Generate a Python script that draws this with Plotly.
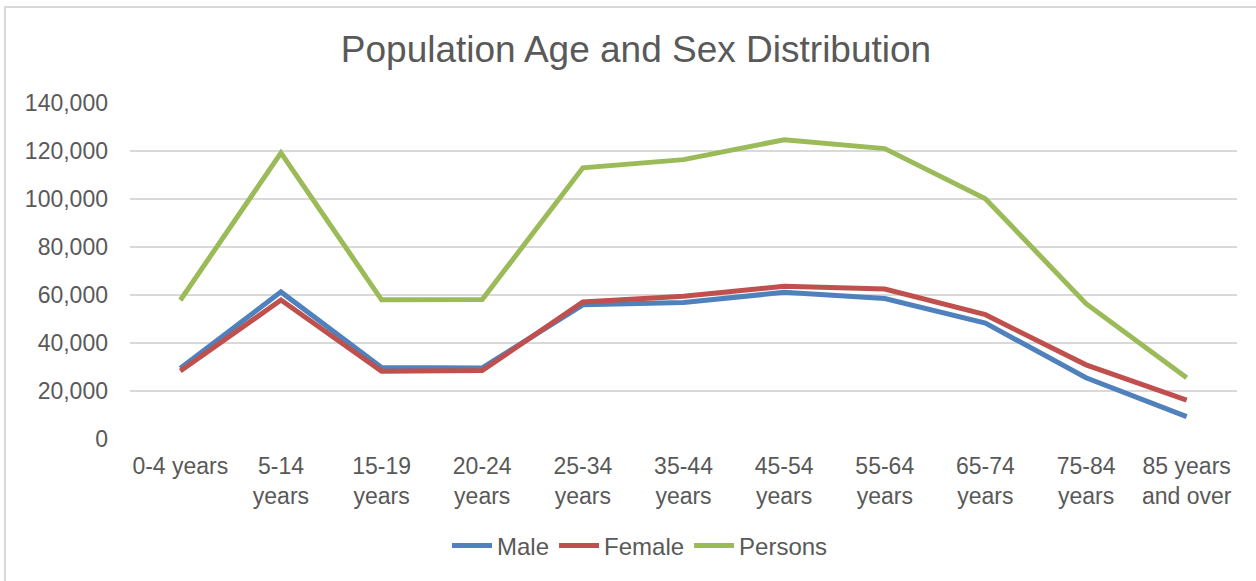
import plotly.graph_objects as go

# Age groups (category axis labels)
age_groups = [
    "0-4 years", "5-14<br>years", "15-19<br>years", "20-24<br>years",
    "25-34<br>years", "35-44<br>years", "45-54<br>years", "55-64<br>years",
    "65-74<br>years", "75-84<br>years", "85 years<br>and over",
]

# Population counts per age group
male = [29500, 61300, 29800, 29600, 55900, 56900, 61100, 58500, 48300, 25500, 9300]
female = [28300, 57900, 28200, 28500, 57100, 59500, 63600, 62500, 51800, 30900, 16200]
persons = [57800, 119200, 58000, 58100, 113000, 116400, 124700, 121000, 100100, 56400, 25500]

y_ticks = [0, 20000, 40000, 60000, 80000, 100000, 120000, 140000]

series = [
    ("Male", male, "#4F81BD"),
    ("Female", female, "#C0504D"),
    ("Persons", persons, "#9BBB59"),
]

FONT = "Liberation Sans, Arial, sans-serif"
TEXT = "#595959"
TICK_SIZE = 23

fig = go.Figure()
for name, values, color in series:
    fig.add_trace(go.Scatter(
        x=age_groups, y=values, name=name, mode="lines",
        line=dict(color=color, width=5),
    ))

W, H = 1256, 581
L, R, T, B = 130, 19, 103, 142

fig.update_layout(
    width=W, height=H,
    margin=dict(l=L, r=R, t=T, b=B),
    paper_bgcolor="white", plot_bgcolor="white",
    font=dict(family=FONT, color=TEXT, size=TICK_SIZE),
    title=dict(
        text="Population Age and Sex Distribution",
        font=dict(family=FONT, color=TEXT, size=37),
        x=636 / W, xref="container", xanchor="center",
        y=1 - 49 / H, yref="container", yanchor="middle",
    ),
    showlegend=True,
    legend=dict(
        orientation="h", x=640 / W, xref="container", xanchor="center",
        y=1 - 546 / H, yref="container", yanchor="middle",
        font=dict(family=FONT, color=TEXT, size=24),
        itemwidth=40, tracegroupgap=0,
    ),
)

fig.update_xaxes(
    type="category", range=[-0.5, len(age_groups) - 0.5],
    showgrid=False, showline=False, zeroline=False,
    ticks="", ticklabelstandoff=11,
    tickfont=dict(family=FONT, color=TEXT, size=TICK_SIZE),
)
fig.update_yaxes(
    range=[0, 140000], tickvals=y_ticks, tickformat=",",
    showgrid=True, gridcolor="#D9D9D9", gridwidth=1.5,
    zeroline=False, showline=False, ticks="",
    ticklabelstandoff=21,
    tickfont=dict(family=FONT, color=TEXT, size=TICK_SIZE),
)

# Chart frame (light grey border around the chart area)
plot_w = W - L - R
plot_h = H - T - B
fig.add_shape(
    type="rect", xref="paper", yref="paper",
    x0=(5 - L) / plot_w, x1=(W + 10 - L) / plot_w,
    y0=(H - B - (H + 10)) / plot_h, y1=(H - B - 7) / plot_h,
    line=dict(color="#D9D9D9", width=2), fillcolor="rgba(0,0,0,0)",
    layer="below",
)

fig.write_html("out.html")
